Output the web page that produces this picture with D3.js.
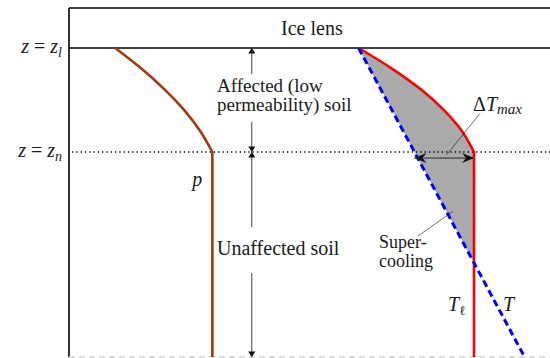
<!DOCTYPE html>
<html>
<head>
<meta charset="utf-8">
<script src="https://cdn.jsdelivr.net/npm/d3@7"></script>
<style>
  body { margin: 0; background: #fff; }
  svg { display: block; }
</style>
</head>
<body>
<div id="chart"></div>
<script>
// depth is measured down from the ice lens, in units of (z_n - z_l)
const levelDepths = [0, 1];
const levelSubs = ['l', 'n'];
const iceTopDepth = -0.385;
const baseDepth = 2.97;

// pore pressure p (arbitrary units) vs depth
const pDepth = [0, 0.2, 0.4, 0.6, 0.8, 1.0];
const pValue = [0.96, 1.51, 1.99, 2.40, 2.73, 2.98];

// liquidus temperature T_l vs depth
const tlDepth = [0, 0.2, 0.4, 0.6, 0.8, 1.0];
const tlValue = [6.02, 6.72, 7.32, 7.80, 8.17, 8.42];

// actual temperature T (straight line)
const tDepth = [0, 2.97];
const tValue = [6.02, 9.47];

const width = 550, height = 358;
const SERIF = '"Liberation Serif", "DejaVu Serif", serif';

const svg = d3.select('#chart').append('svg')
  .attr('width', width)
  .attr('height', height);

const x = d3.scaleLinear().domain([0, 10]).range([69, 550]);
const y = d3.scaleLinear().domain([0, 1]).range([48, 152]);

const boxRight = x(10.1);

function addText(parent, size) {
  return parent.append('text')
    .style('font-family', SERIF)
    .style('font-size', size + 'px')
    .style('fill', '#1a1a1a');
}

// ###
// MARKERS
// ###
const defs = svg.append('defs');

defs.append('marker')
  .attr('id', 'tri')
  .attr('viewBox', '-7 -4 8 8')
  .attr('refX', 0).attr('refY', 0)
  .attr('markerWidth', 8).attr('markerHeight', 8)
  .attr('markerUnits', 'userSpaceOnUse')
  .attr('orient', 'auto-start-reverse')
  .append('path')
  .attr('d', 'M0,0 L-5.5,-3.6 L-5.5,3.6 Z')
  .style('fill', '#111');

defs.append('marker')
  .attr('id', 'stealth')
  .attr('viewBox', '-13 -6 14 12')
  .attr('refX', 0).attr('refY', 0)
  .attr('markerWidth', 14).attr('markerHeight', 12)
  .attr('markerUnits', 'userSpaceOnUse')
  .attr('orient', 'auto-start-reverse')
  .append('path')
  .attr('d', 'M0,0 L-12,-5 L-8,0 L-12,5 Z')
  .style('fill', '#111');

// ###
// SUPERCOOLED REGION
// ###
const tlPoints = tlDepth.map((z, i) => ({z, v: tlValue[i]}));
const pPoints = pDepth.map((z, i) => ({z, v: pValue[i]}));

const curveLine = d3.line()
  .x(d => x(d.v))
  .y(d => y(d.z))
  .curve(d3.curveCatmullRom.alpha(0.5));

const tlEnd = tlValue[tlValue.length - 1];
const tSlope = (tValue[1] - tValue[0]) / (tDepth[1] - tDepth[0]);
const zCross = tDepth[0] + (tlEnd - tValue[0]) / tSlope;

svg.append('path')
  .attr('d', curveLine(tlPoints) +
    `L${x(tlEnd)},${y(zCross)}L${x(tValue[0])},${y(tDepth[0])}Z`)
  .style('fill', '#aaaaaa')
  .style('stroke', 'none');

// ###
// ICE LENS BOX
// ###
svg.append('line')
  .attr('x1', x(0)).attr('y1', y(iceTopDepth))
  .attr('x2', x(0)).attr('y2', y(baseDepth))
  .style('stroke', '#000').style('stroke-width', 1.6);

[iceTopDepth, 0].forEach(z => {
  svg.append('line')
    .attr('x1', x(0)).attr('y1', y(z))
    .attr('x2', boxRight).attr('y2', y(z))
    .style('stroke', '#000').style('stroke-width', 1.6);
});

svg.append('line')
  .attr('x1', x(0)).attr('y1', y(baseDepth))
  .attr('x2', width).attr('y2', y(baseDepth))
  .style('stroke', '#c8c8c8')
  .style('stroke-width', 1.2)
  .style('stroke-dasharray', '6,4');

addText(svg, 20)
  .attr('x', (x(0) + boxRight) / 2)
  .attr('y', y(iceTopDepth) + 27)
  .attr('text-anchor', 'middle')
  .text('Ice lens');

// dotted z = z_n line
svg.append('line')
  .attr('x1', x(0) + 3).attr('y1', y(1))
  .attr('x2', width).attr('y2', y(1))
  .style('stroke', '#000')
  .style('stroke-width', 1.3)
  .style('stroke-dasharray', '1.3,3');

// level labels
levelDepths.forEach((z, i) => {
  const t = addText(svg, 20)
    .attr('x', x(0) - 7)
    .attr('y', y(z) + 5)
    .attr('text-anchor', 'end');
  t.append('tspan').style('font-style', 'italic').text('z');
  t.append('tspan').text(' = ');
  t.append('tspan').style('font-style', 'italic').text('z');
  t.append('tspan').style('font-style', 'italic').style('font-size', '14px')
    .attr('dy', 4).text(levelSubs[i]);
});

// ###
// CURVES
// ###
svg.append('path')
  .attr('d', curveLine(pPoints) + `L${x(pValue[pValue.length - 1])},${y(baseDepth)}`)
  .style('fill', 'none')
  .style('stroke', '#a33a0c')
  .style('stroke-width', 2.6);

svg.append('path')
  .attr('d', curveLine(tlPoints) + `L${x(tlEnd)},${y(baseDepth)}`)
  .style('fill', 'none')
  .style('stroke', '#ff0000')
  .style('stroke-width', 2.6);

svg.append('line')
  .attr('x1', x(tValue[0])).attr('y1', y(tDepth[0]))
  .attr('x2', x(tValue[1])).attr('y2', y(tDepth[1]))
  .style('stroke', '#0000ff')
  .style('stroke-width', 3)
  .style('stroke-dasharray', '7,4');

// ###
// ZONE ARROWS
// ###
const arrowX = x(3.8);

[[0, 1], [1, baseDepth]].forEach(([a, b]) => {
  svg.append('line')
    .attr('x1', arrowX).attr('y1', y(a))
    .attr('x2', arrowX).attr('y2', y(b))
    .style('stroke', '#111')
    .style('stroke-width', 0.8)
    .attr('marker-start', 'url(#tri)')
    .attr('marker-end', 'url(#tri)');
});

function labelBlock(lines, size, lx, baseline, lineGap, padTop, padBottom) {
  const g = svg.append('g');
  const rect = g.append('rect').style('fill', '#fff');
  const t = addText(g, size);
  lines.forEach((s, i) => {
    t.append('tspan').attr('x', lx).attr('y', baseline + i * lineGap).text(s);
  });
  const bb = t.node().getBBox();
  rect.attr('x', bb.x - 2).attr('y', bb.y - padTop)
    .attr('width', bb.width + 4).attr('height', bb.height + padTop + padBottom);
  return g;
}

labelBlock(['Affected (low', 'permeability) soil'], 19, 217, 92, 19, 1, 6);
labelBlock(['Unaffected soil'], 20, 217, 255, 19, 10, 14);

// ###
// ANNOTATIONS
// ###
addText(svg, 20)
  .attr('x', x(pValue[pValue.length - 1]) - 20)
  .attr('y', y(1) + 34)
  .style('font-style', 'italic')
  .text('p');

// delta T max arrow, just below z_n
const dtY = y(1) + 6;
const tAtZn = tValue[0] + tSlope * 1;
svg.append('line')
  .attr('x1', x(tAtZn)).attr('y1', dtY)
  .attr('x2', x(tlEnd)).attr('y2', dtY)
  .style('stroke', '#555')
  .style('stroke-width', 1.3)
  .attr('marker-start', 'url(#stealth)')
  .attr('marker-end', 'url(#stealth)');

svg.append('line')
  .attr('x1', x(tAtZn) + 32).attr('y1', dtY - 3)
  .attr('x2', x(tlEnd) + 6).attr('y2', y(0.63))
  .style('stroke', '#111').style('stroke-width', 0.6);

const dt = addText(svg, 20)
  .attr('x', x(tlEnd) - 1)
  .attr('y', y(0.61));
dt.append('tspan').text('Δ');
dt.append('tspan').style('font-style', 'italic').text('T');
dt.append('tspan').style('font-style', 'italic').style('font-size', '15px')
  .attr('dy', 3).text('max');

// supercooling label
const scText = addText(svg, 18);
scText.append('tspan').attr('x', 379).attr('y', 248).text('Super-');
scText.append('tspan').attr('x', 379).attr('y', 267).text('cooling');

svg.append('line')
  .attr('x1', 418).attr('y1', 236)
  .attr('x2', x(tValue[0] + tSlope * 1.6) + 5).attr('y2', y(1.6) - 3)
  .style('stroke', '#111').style('stroke-width', 0.6);

// curve labels
const tl = addText(svg, 20)
  .attr('x', x(tlEnd) - 26)
  .attr('y', 311);
tl.append('tspan').style('font-style', 'italic').text('T');
tl.append('tspan').style('font-size', '13px').attr('dy', 4).text('ℓ');

addText(svg, 20)
  .attr('x', x(tlEnd) + 29)
  .attr('y', 311)
  .style('font-style', 'italic')
  .text('T');
</script>
</body>
</html>
